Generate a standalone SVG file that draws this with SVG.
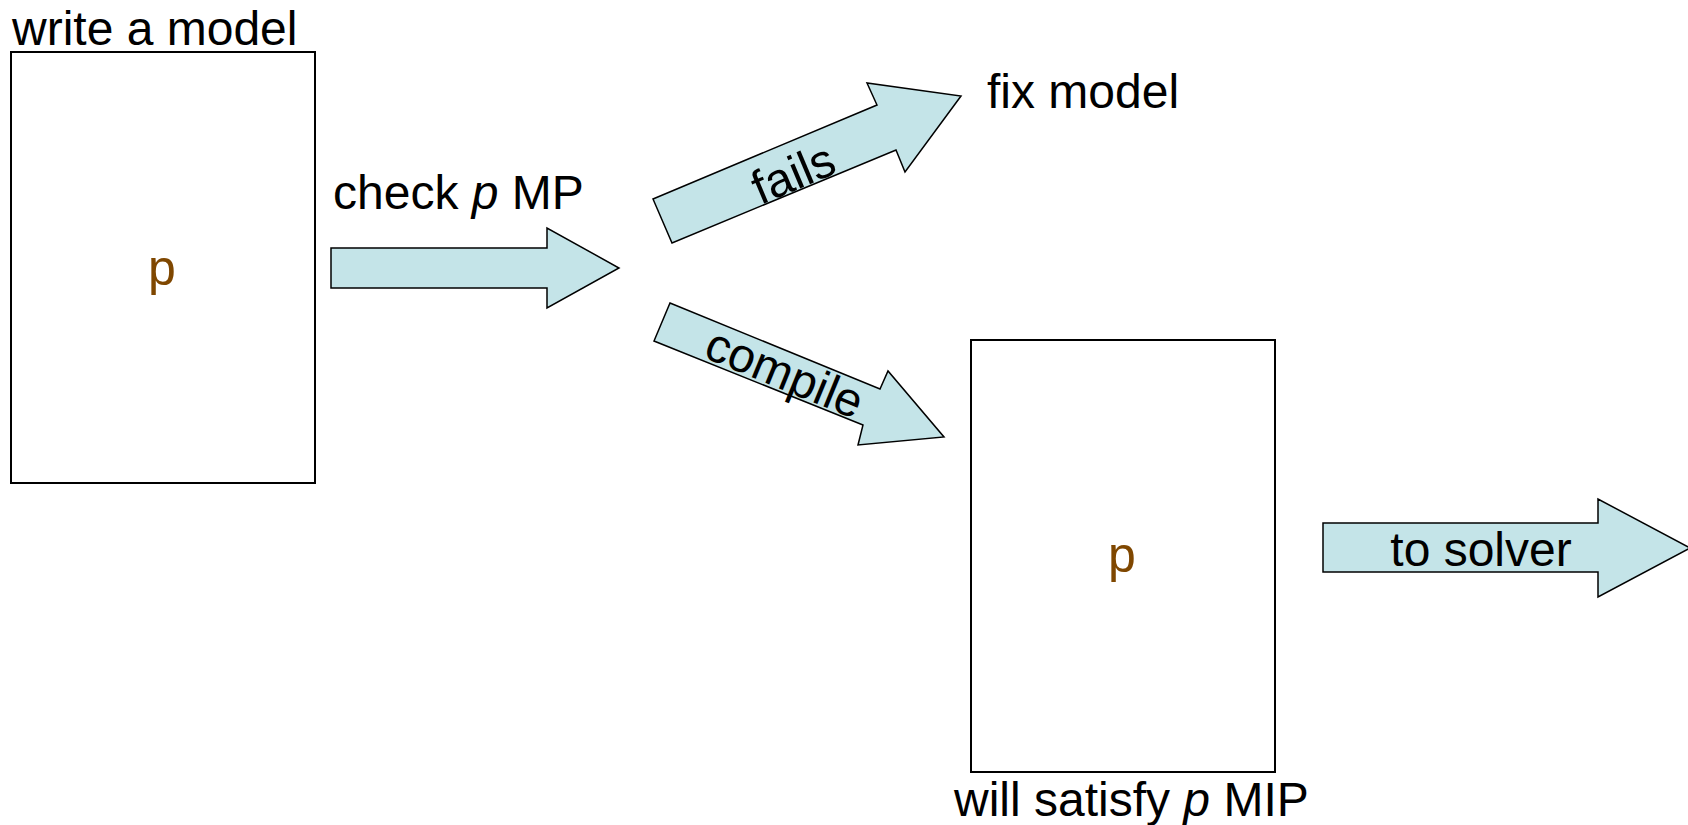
<svg xmlns="http://www.w3.org/2000/svg" width="1688" height="825" viewBox="0 0 1688 825">
<style>
.box{fill:#ffffff;stroke:#000000;stroke-width:2}
.arrow{fill:#c4e4e8;stroke:#000000;stroke-width:1.5;stroke-linejoin:miter}
.t{font-family:"Liberation Sans",Arial,sans-serif;font-size:48px;fill:#000000}
.pv{font-family:"Liberation Sans",Arial,sans-serif;font-size:50px;fill:#7f4700;text-anchor:middle}
.it{font-style:italic}
</style>
<rect width="1688" height="825" fill="#ffffff"/>
<g id="model">
<rect class="box" x="11" y="52" width="304" height="431"/>
<text class="pv" x="162" y="285">p</text>
<text class="t" x="12" y="45">write a model</text>
</g>
<g id="compiled">
<rect class="box" x="971" y="340" width="304" height="432"/>
<text class="pv" x="1122" y="572">p</text>
<text class="t" x="954" y="816">will satisfy <tspan class="it">p</tspan> MIP</text>
</g>
<g id="fix">
<text class="t" x="987" y="108">fix model</text>
</g>
<g id="connectors">
<g id="check-arrow">
<polygon class="arrow" points="331,248 547,248 547,228 619,268 547,308 547,288 331,288"/>
<text class="t" x="333" y="209">check <tspan class="it">p</tspan> MP</text>
</g>
<g id="fails-arrow">
<polygon class="arrow" points="653,199 877,105 867,83 961,96 905,172 896,150 672,243"/>
<text class="t" text-anchor="middle" transform="translate(793,173) rotate(-22.8)" x="0" y="17">fails</text>
</g>
<g id="compile-arrow">
<polygon class="arrow" points="670,303 880,389 888,371 944,437 858,445 863,425 654,341"/>
<text class="t" text-anchor="middle" transform="translate(783,377) rotate(22.3)" x="0" y="12">compile</text>
</g>
<g id="solver-arrow">
<polygon class="arrow" points="1323,523 1598,523 1598,499 1690,548 1598,597 1598,572 1323,572"/>
<text class="t" text-anchor="middle" x="1481" y="566">to solver</text>
</g>
</g>
</svg>
